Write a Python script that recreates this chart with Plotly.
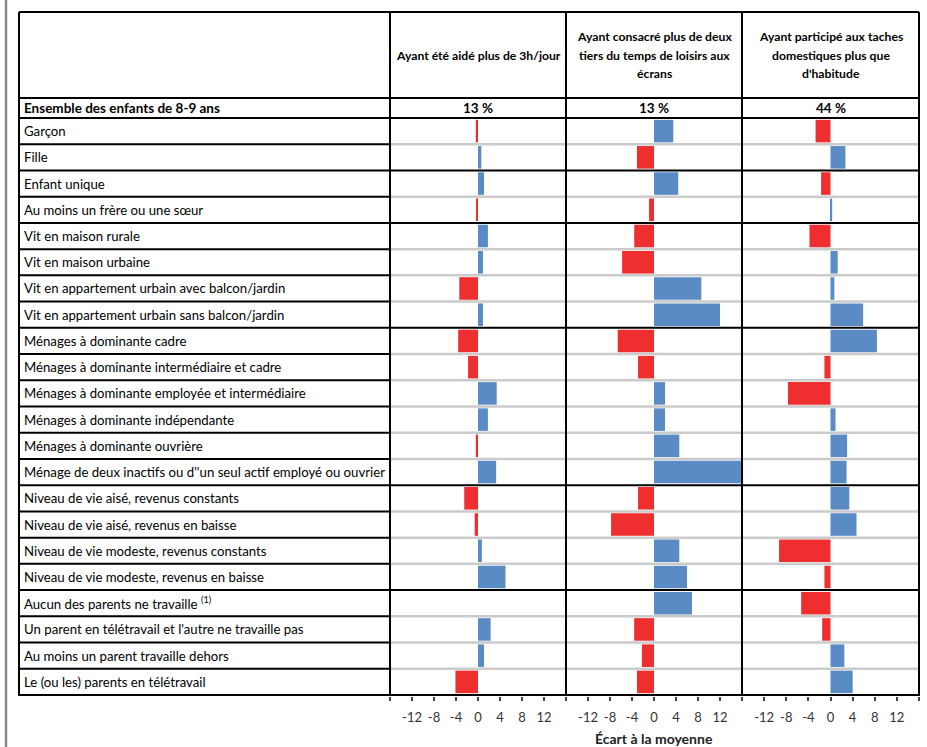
import plotly.graph_objects as go

# ---------------- data ----------------
categories = [
    "Garçon",
    "Fille",
    "Enfant unique",
    "Au moins un frère ou une sœur",
    "Vit en maison rurale",
    "Vit en maison urbaine",
    "Vit en appartement urbain avec balcon/jardin",
    "Vit en appartement urbain sans balcon/jardin",
    "Ménages à dominante cadre",
    "Ménages à dominante intermédiaire et cadre",
    "Ménages à dominante employée et intermédiaire",
    "Ménages à dominante indépendante",
    "Ménages à dominante ouvrière",
    "Ménage de deux inactifs ou d''un seul actif employé ou ouvrier",
    "Niveau de vie aisé, revenus constants",
    "Niveau de vie aisé, revenus en baisse",
    "Niveau de vie modeste, revenus constants",
    "Niveau de vie modeste, revenus en baisse",
    "Aucun des parents ne travaille <sup>(1)</sup>",
    "Un parent en télétravail et l'autre ne travaille pas",
    "Au moins un parent travaille dehors",
    "Le (ou les) parents en télétravail",
]
group_sizes = [2, 2, 4, 6, 4, 4]

headers = [
    ["Ayant été aidé plus de 3h/jour"],
    ["Ayant consacré plus de deux", "tiers du temps de loisirs aux", "écrans"],
    ["Ayant participé aux taches", "domestiques plus que", "d'habitude"],
]
total_label = "Ensemble des enfants de 8-9 ans"
totals = ["13 %", "13 %", "44 %"]

aide = [-0.4, 0.6, 1.1, -0.2, 1.8, 0.9, -3.4, 0.9, -3.6, -1.8, 3.4, 1.8,
        -0.4, 3.3, -2.5, -0.6, 0.7, 5.0, 0.0, 2.3, 1.1, -4.1]
ecrans = [3.5, -3.1, 4.4, -0.9, -3.6, -5.8, 8.6, 12.0, -6.6, -2.9, 2.0, 2.0,
          4.6, 16.0, -2.9, -7.8, 4.6, 6.0, 6.9, -3.6, -2.2, -3.1]
taches = [-2.7, 2.7, -1.7, 0.3, -3.8, 1.3, 0.7, 5.9, 8.4, -1.1, -7.7, 0.9,
          3.0, 2.9, 3.4, 4.7, -9.3, -1.1, -5.3, -1.5, 2.5, 4.0]

tick_vals = [-12, -8, -4, 0, 4, 8, 12]
tick_text = ["-12", "-8", "-4", "0", "4", "8", "12"]
axis_title = "Écart à la moyenne"

# ---------------- style / layout ----------------
W, H = 927, 747
RED = "#EE2E2F"
BLUE = "#5B8BC5"
GREY = "#CBCBCB"
FONT = "Lato"


def px(x):
    return x / W


def py(y):
    return 1 - y / H


TABLE_L, LABEL_R, DIV1, DIV2, TABLE_R = 19, 390, 566, 742, 919
TOP, HEAD_B, TOT_B, BOT = 12, 98, 118, 696
panels = [(LABEL_R, DIV1), (DIV1, DIV2), (DIV2, TABLE_R)]

fig = go.Figure()
series = [aide, ecrans, taches]
axes = ["x", "x2", "x3"]
for vals, ax in zip(series, axes):
    fig.add_trace(go.Bar(
        x=vals, y=categories, orientation="h", xaxis=ax, yaxis="y",
        marker=dict(color=[RED if v < 0 else BLUE for v in vals], line=dict(width=0)),
        width=0.86, showlegend=False, hoverinfo="x+y",
    ))

axis_common = dict(
    range=[-16, 16], tickmode="array", tickvals=tick_vals, ticktext=tick_text,
    ticks="outside", ticklen=4, tickwidth=1.5, tickcolor="#444",
    minor=dict(tick0=-16, dtick=4, ticks="outside", ticklen=4, tickwidth=1.5,
               tickcolor="#444", showgrid=False),
    showgrid=False, zeroline=False, showline=False, fixedrange=True,
    tickfont=dict(family=FONT, size=13, color="#333"), anchor="y",
    ticklabelstandoff=5,
)
layout = dict(
    width=W, height=H, autosize=False,
    margin=dict(l=0, r=0, t=0, b=0),
    paper_bgcolor="white", plot_bgcolor="rgba(0,0,0,0)",
    barmode="overlay",
    font=dict(family=FONT, color="black"),
    yaxis=dict(domain=[py(BOT), py(TOT_B)], autorange="reversed",
               showticklabels=False, ticks="", showgrid=False, zeroline=False,
               categoryorder="array", categoryarray=categories, fixedrange=True,
               anchor="x"),
)
for i, ax in enumerate(["xaxis", "xaxis2", "xaxis3"]):
    d = dict(axis_common)
    d["domain"] = [px(panels[i][0]), px(panels[i][1])]
    layout[ax] = d
fig.update_layout(**layout)

shapes = []
black = dict(color="black", width=2)
# left grey rule of the page
shapes.append(dict(type="line", xref="paper", yref="paper", x0=px(6), x1=px(6),
                   y0=0, y1=1, line=dict(color="#8a8a8a", width=2.5)))
# horizontal table rules (header)
for yy in [TOP, HEAD_B, TOT_B]:
    shapes.append(dict(type="line", xref="paper", yref="paper", x0=px(TABLE_L), x1=px(TABLE_R),
                       y0=py(yy), y1=py(yy), line=black))
# row rules
n = len(categories)
ends = []
acc = 0
for g in group_sizes:
    acc += g
    ends.append(acc)
for i in range(1, n + 1):
    yv = i - 0.5
    shapes.append(dict(type="line", xref="paper", yref="y", x0=px(TABLE_L), x1=px(LABEL_R),
                       y0=yv, y1=yv, line=black))
    if i in ends:
        shapes.append(dict(type="line", xref="paper", yref="y", x0=px(LABEL_R), x1=px(TABLE_R),
                           y0=yv, y1=yv, line=black))
    else:
        shapes.append(dict(type="line", xref="paper", yref="y", x0=px(LABEL_R), x1=px(TABLE_R + 1),
                           y0=yv, y1=yv, line=dict(color=GREY, width=2.5), layer="below"))
# vertical rules
for xx in [TABLE_L, LABEL_R, DIV1, DIV2, TABLE_R]:
    shapes.append(dict(type="line", xref="paper", yref="paper", x0=px(xx), x1=px(xx),
                       y0=py(BOT), y1=py(TOP), line=black))
fig.update_layout(shapes=shapes)

ann = []
for c in categories:
    ann.append(dict(x=px(22), y=c, xref="paper", yref="y", text=c, showarrow=False,
                    xanchor="left", yanchor="middle",
                    font=dict(family=FONT, size=13.2, color="black")))
ann.append(dict(x=px(22), y=py((HEAD_B + TOT_B) / 2), xref="paper", yref="paper",
                text="<b>" + total_label + "</b>", showarrow=False, xanchor="left",
                yanchor="middle", font=dict(family=FONT, size=13.5, color="black")))
LINE_H = 18
for (l, r), h, t in zip(panels, headers, totals):
    y0 = 55 - (len(h) - 1) * LINE_H / 2
    for k, line in enumerate(h):
        ann.append(dict(x=px((l + r) / 2), y=py(y0 + k * LINE_H), xref="paper", yref="paper",
                        text="<b>" + line + "</b>", showarrow=False, xanchor="center",
                        yanchor="middle", align="center",
                        font=dict(family=FONT, size=12.2, color="black")))
    ann.append(dict(x=px((l + r) / 2), y=py((HEAD_B + TOT_B) / 2), xref="paper", yref="paper",
                    text="<b>" + t + "</b>", showarrow=False, xanchor="center",
                    yanchor="middle", font=dict(family=FONT, size=13.5, color="black")))
ann.append(dict(x=px((DIV1 + DIV2) / 2), y=py(738), xref="paper", yref="paper",
                text="<b>" + axis_title + "</b>", showarrow=False, xanchor="center",
                yanchor="middle", font=dict(family=FONT, size=14, color="#222")))
fig.update_layout(annotations=ann)

fig.write_html("out.html", config={"displayModeBar": False},
               post_script="document.body.style.margin='0';")
